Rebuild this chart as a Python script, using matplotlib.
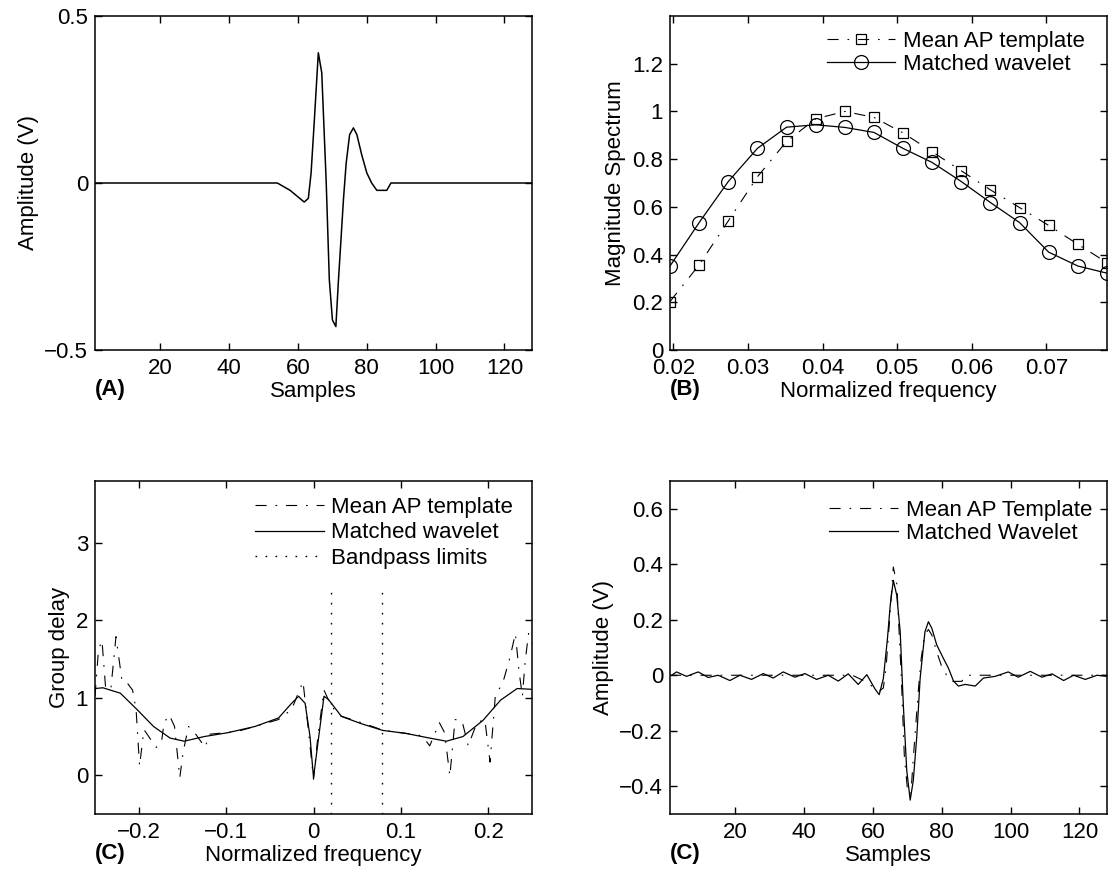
import matplotlib
matplotlib.use("Agg")
import matplotlib.pyplot as plt
from matplotlib.ticker import FuncFormatter

plt.rcParams["font.family"] = ["Liberation Sans", "DejaVu Sans"]
plt.rcParams["font.size"] = 16

# (A) mean AP template, also the dash-dot curve of the last panel
tmpl_x = [1, 54, 57.7, 61.8, 63, 63.8, 64.7, 65.9, 66.9, 68.2, 69.1, 70, 71, 71.7,
          73.2, 74, 75, 76.1, 77.1, 78.5, 80, 81.4, 82.9, 85.8, 87, 128]
tmpl_y = [0, 0, -0.022, -0.057, -0.046, 0.03, 0.18, 0.39, 0.33, 0.0, -0.29, -0.41, -0.43, -0.30,
          -0.05, 0.06, 0.145, 0.165, 0.145, 0.085, 0.03, 0.0, -0.022, -0.022, 0, 0]

# (B) magnitude spectrum in the pass band
freq_b = [5/256, 6/256, 7/256, 8/256, 9/256, 10/256, 11/256, 12/256,
          13/256, 14/256, 15/256, 16/256, 17/256, 18/256, 19/256, 20/256]
mag_tmpl = [0.203, 0.357, 0.541, 0.726, 0.874, 0.969, 1.0, 0.975,
            0.910, 0.831, 0.751, 0.671, 0.597, 0.522, 0.443, 0.366]
mag_wav = [0.352, 0.534, 0.706, 0.845, 0.934, 0.944, 0.933, 0.912,
           0.845, 0.786, 0.706, 0.618, 0.534, 0.410, 0.352, 0.322]

# (C) group delay
gd_wav_x = [-0.25, -0.241, -0.221, -0.202, -0.183, -0.164, -0.148, -0.125, -0.098, -0.067,
            -0.040, -0.025, -0.017, -0.0096, -0.004, 0.0, 0.006, 0.012, 0.017, 0.032,
            0.055, 0.079, 0.106, 0.133, 0.152, 0.171, 0.194, 0.214, 0.233, 0.25]
gd_wav_y = [1.12, 1.13, 1.06, 0.85, 0.63, 0.48, 0.44, 0.50, 0.55, 0.63,
            0.74, 0.93, 1.02, 0.93, 0.5, -0.03, 0.5, 1.02, 0.98, 0.76,
            0.665, 0.58, 0.54, 0.48, 0.44, 0.50, 0.71, 0.97, 1.12, 1.11]
gd_tmpl_x = [-0.25, -0.246, -0.242, -0.238, -0.232, -0.226, -0.219, -0.213, -0.207, -0.203,
             -0.199, -0.194, -0.180, -0.174, -0.171, -0.165, -0.159, -0.153, -0.149, -0.143,
             -0.136, -0.124, -0.119, -0.101, -0.086, -0.07, -0.04, -0.025, -0.012, -0.006,
             0.0, 0.005, 0.012, 0.02, 0.03, 0.06, 0.08, 0.1, 0.12, 0.125,
             0.133, 0.144, 0.150, 0.156, 0.162, 0.170, 0.177, 0.187, 0.196, 0.202,
             0.208, 0.217, 0.225, 0.231, 0.235, 0.239, 0.242, 0.246, 0.25]
gd_tmpl_y = [1.02, 1.62, 1.74, 1.15, 1.10, 1.79, 1.21, 1.19, 1.10, 0.85,
             0.12, 0.59, 0.36, 0.42, 0.68, 0.78, 0.63, -0.03, 0.31, 0.63,
             0.55, 0.36, 0.53, 0.55, 0.57, 0.62, 0.72, 0.85, 1.21, 0.6,
             -0.05, 0.5, 1.10, 0.9, 0.77, 0.66, 0.58, 0.55, 0.52, 0.50,
             0.38, 0.68, 0.55, -0.01, 0.72, 0.70, 0.38, 0.68, 0.72, 0.17,
             1.02, 1.21, 1.53, 1.83, 1.36, 1.02, 1.45, 1.83, 1.7]
band_limits = [5/256, 20/256]

# (D) matched wavelet
wav_x = [1.5, 2.9, 5.8, 9.2, 12.1, 15.0, 18.4, 21.3, 24.7, 28.1, 31.0, 33.9, 37.3, 40.2,
         43.6, 47.0, 49.9, 52.8, 55.7, 58.2, 60.6, 61.8, 63.0, 64.2, 65.0, 65.9, 66.9,
         67.9, 68.8, 69.8, 70.8, 71.7, 72.7, 73.7, 75.1, 76.1, 77.1, 78.5, 80.4, 81.9,
         83.4, 84.8, 86.8, 89.7, 92.1, 95.5, 99.3, 102.2, 105.7, 109.1, 112.0, 115.4,
         118.3, 121.7, 125.1, 128]
wav_y = [0.0, 0.012, -0.004, 0.012, -0.008, 0.0, -0.019, 0.0, -0.015, 0.006, -0.01, 0.012,
         -0.007, 0.006, -0.015, 0.0, -0.021, 0.005, -0.033, 0.002, -0.05, -0.07, -0.012,
         0.133, 0.252, 0.342, 0.288, 0.157, -0.105, -0.343, -0.45, -0.38, -0.224, -0.01,
         0.157, 0.193, 0.169, 0.11, 0.062, 0.026, -0.021, -0.039, -0.033, -0.039, -0.01,
         -0.004, 0.012, -0.007, 0.014, -0.007, 0.005, -0.019, 0.0, -0.015, 0.0, -0.004]

DASHDOT = (0, (10, 8, 1.5, 8))
DOTS = (0, (1.2, 6))


def fmt(v, pos):
    return ("%g" % round(v, 6)).replace("-", "\u2212")


def style(ax):
    ax.tick_params(direction="in", top=True, right=True, length=5, width=1)
    ax.tick_params(axis="x", pad=6)
    ax.tick_params(axis="y", pad=5)
    for s in ax.spines.values():
        s.set_linewidth(1.1)
    ax.xaxis.set_major_formatter(FuncFormatter(fmt))
    ax.yaxis.set_major_formatter(FuncFormatter(fmt))


def legend(ax, x, y, spacing):
    ax.legend(loc="upper right", bbox_to_anchor=(x, y), frameon=False, handlelength=3.1,
              handletextpad=0.35, borderaxespad=0.0, borderpad=0.0, labelspacing=spacing)


fig = plt.figure(figsize=(11.13, 8.75), dpi=100)
W, H = 1113, 875
axA = fig.add_axes([95/W, (H-350)/H, 437/W, 334/H])
axB = fig.add_axes([670/W, (H-350)/H, 437/W, 334/H])
axC = fig.add_axes([95/W, (H-814)/H, 437/W, 333/H])
axD = fig.add_axes([670/W, (H-814)/H, 437/W, 333/H])

# (A)
axA.plot(tmpl_x, tmpl_y, color="k", linewidth=1.1)
axA.set_xlim(1, 128)
axA.set_ylim(-0.5, 0.5)
axA.set_xticks([20, 40, 60, 80, 100, 120])
axA.set_yticks([-0.5, 0, 0.5])
axA.set_xlabel("Samples", labelpad=1)
axA.set_ylabel("Amplitude (V)")
style(axA)

# (B)
axB.plot(freq_b, mag_tmpl, color="k", linestyle=DASHDOT, linewidth=0.8, marker="s",
         markersize=7.5, markerfacecolor="none", markeredgewidth=0.9, label="Mean AP template")
axB.plot(freq_b, mag_wav, color="k", linestyle="-", linewidth=0.9, marker="o",
         markersize=10, markerfacecolor="none", markeredgewidth=0.9, label="Matched wavelet")
axB.set_xlim(5/256, 20/256)
axB.set_ylim(0, 1.4)
axB.set_xticks([0.02, 0.03, 0.04, 0.05, 0.06, 0.07])
axB.set_yticks([0, 0.2, 0.4, 0.6, 0.8, 1.0, 1.2])
axB.set_xlabel("Normalized frequency", labelpad=1)
axB.set_ylabel("Magnitude Spectrum")
legend(axB, 0.95, 0.955, 0.1)
style(axB)

# (C)
axC.plot(gd_tmpl_x, gd_tmpl_y, color="k", linestyle=DASHDOT, linewidth=0.8, label="Mean AP template")
axC.plot(gd_wav_x, gd_wav_y, color="k", linestyle="-", linewidth=0.9, label="Matched wavelet")
for i, f in enumerate(band_limits):
    axC.plot([f, f], [-0.5, 2.4], color="k", linestyle=DOTS, linewidth=1.0,
             label="Bandpass limits" if i == 0 else None)
axC.set_xlim(-0.25, 0.25)
axC.set_ylim(-0.5, 3.8)
axC.set_xticks([-0.2, -0.1, 0, 0.1, 0.2])
axC.set_yticks([0, 1, 2, 3])
axC.set_xlabel("Normalized frequency", labelpad=1)
axC.set_ylabel("Group delay")
legend(axC, 0.957, 0.952, 0.2)
style(axC)

# (D)
axD.plot(tmpl_x, tmpl_y, color="k", linestyle=DASHDOT, linewidth=0.8, label="Mean AP Template")
axD.plot(wav_x, wav_y, color="k", linestyle="-", linewidth=0.9, label="Matched Wavelet")
axD.set_xlim(1, 128)
axD.set_ylim(-0.5, 0.7)
axD.set_xticks([20, 40, 60, 80, 100, 120])
axD.set_yticks([-0.4, -0.2, 0, 0.2, 0.4, 0.6])
axD.set_xlabel("Samples", labelpad=1)
axD.set_ylabel("Amplitude (V)")
legend(axD, 0.966, 0.943, 0.1)
style(axD)

# panel tags under the lower-left corner
for ax, tag in [(axA, "(A)"), (axB, "(B)"), (axC, "(C)"), (axD, "(C)")]:
    ax.text(0.0, -0.118, tag, transform=ax.transAxes, fontweight="bold",
            ha="left", va="center", fontsize=16)

fig.savefig("out.png", dpi=100)
